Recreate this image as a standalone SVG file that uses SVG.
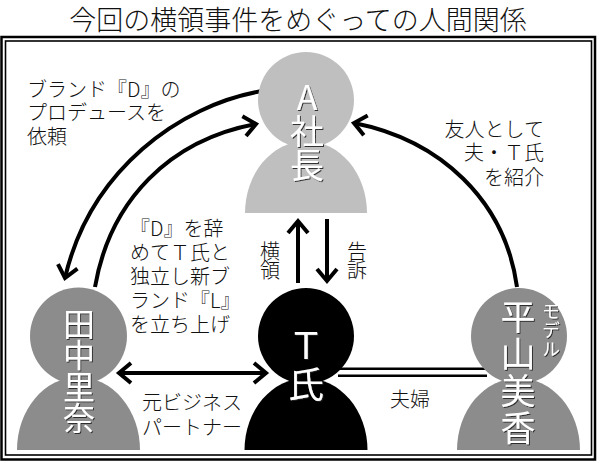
<svg xmlns="http://www.w3.org/2000/svg" width="600" height="463" viewBox="0 0 600 463">
<defs>
<style>
text{font-family:"Noto Sans CJK JP","Noto Sans CJK SC",sans-serif;fill:#111;font-weight:300;}
.lbl{font-size:20px;}
.title{font-size:27px;text-anchor:middle;}
.vt{writing-mode:vertical-rl;text-orientation:upright;}
.nm{fill:#fff;filter:url(#sh);font-weight:400;}
.light{fill:#bfbfbf;}
.mid{fill:#8c8c8c;}
.dark{fill:#000;}
.con{fill:none;stroke:#000;stroke-width:4;}
.dbl{fill:none;stroke:#000;stroke-width:2.6;}
</style>
<marker id="ah" markerUnits="userSpaceOnUse" viewBox="-16 -14 20 28" refX="0" refY="0" markerWidth="20" markerHeight="28" orient="auto-start-reverse">
<path d="M-12,-10 L0,0 L-12,10" fill="none" stroke="#000" stroke-width="4"/>
</marker>
<filter id="sh" x="-20%" y="-20%" width="140%" height="140%">
<feDropShadow dx="1" dy="1" stdDeviation="0.6" flood-color="#222" flood-opacity="0.9"/>
</filter>
</defs>
<rect width="600" height="463" fill="#fff"/>
<text class="title" x="298" y="30">今回の横領事件をめぐっての人間関係</text>
<rect x="1.5" y="37" width="593.5" height="422.5" fill="none" stroke="#000" stroke-width="2.5"/>
<rect x="5.5" y="41" width="586" height="414" fill="none" stroke="#000" stroke-width="1.6"/>

<g id="connectors">
<path class="con" d="M262,91 C180,105 90,170 65,278" marker-end="url(#ah)"/>
<path class="con" d="M95,287 C110,200 170,140 256,124" marker-end="url(#ah)"/>
<path class="con" d="M517,287 C505,200 440,140 354,123" marker-end="url(#ah)"/>
<path class="con" d="M298,283 L298,221" stroke-width="3.5" marker-end="url(#ah)"/>
<path class="con" d="M327,219 L327,281" stroke-width="3.5" marker-end="url(#ah)"/>
<path class="con" d="M119,373 L266,373" marker-start="url(#ah)" marker-end="url(#ah)"/>
<path class="dbl" d="M338,368.7 L487,368.7 M338,375.8 L487,375.8"/>
</g>

<g id="labels">
<text class="lbl"><tspan x="27" y="97">ブランド『D』の</tspan><tspan x="27" y="120">プロデュースを</tspan><tspan x="27" y="144">依頼</tspan></text>
<text class="lbl" text-anchor="end"><tspan x="544" y="136.5">友人として</tspan><tspan x="544" y="160">夫・Ｔ氏</tspan><tspan x="544" y="184.5">を紹介</tspan></text>
<text class="lbl"><tspan x="130" y="236">『D』を辞</tspan><tspan x="130" y="260">めてＴ氏と</tspan><tspan x="130" y="284">独立し新ブ</tspan><tspan x="130" y="308">ランド『L』</tspan><tspan x="130" y="332">を立ち上げ</tspan></text>
<text class="lbl vt" x="270" y="241" letter-spacing="-0.5">横領</text>
<text class="lbl vt" x="357" y="241" letter-spacing="-0.5">告訴</text>
<text class="lbl"><tspan x="142" y="409.5">元ビジネス</tspan><tspan x="142" y="434.5">パートナー</tspan></text>
<text class="lbl" x="390" y="407">夫婦</text>
</g>

<g id="node-a">
<circle class="light" cx="306" cy="100" r="48"/>
<path class="light" d="M245,213 A61,72 0 0 1 367,213 Z"/>
<text class="nm vt" x="307" y="80" font-size="34">A社長</text>
</g>

<g id="node-tanaka">
<circle class="mid" cx="78.5" cy="336" r="48.5"/>
<path class="mid" d="M17,450 A61.5,73 0 0 1 140,450 Z"/>
<text class="nm vt" x="79" y="307.5" font-size="32" letter-spacing="-0.5">田中里奈</text>
</g>

<g id="node-t">
<circle class="dark" cx="306" cy="336" r="48"/>
<path class="dark" d="M244.5,450 A61.5,72 0 0 1 367.5,450 Z"/>
<text class="nm vt" x="306" y="328" font-size="36" letter-spacing="2">Ｔ氏</text>
</g>

<g id="node-hirayama">
<circle class="mid" cx="519" cy="336" r="48"/>
<path class="mid" d="M457,450 A61.5,72 0 0 1 580,450 Z"/>
<text class="nm vt" x="518" y="299.5" font-size="35" letter-spacing="2">平山美香</text>
<text class="nm vt" x="551" y="302" font-size="18" letter-spacing="1">モデル</text>
</g>
</svg>
